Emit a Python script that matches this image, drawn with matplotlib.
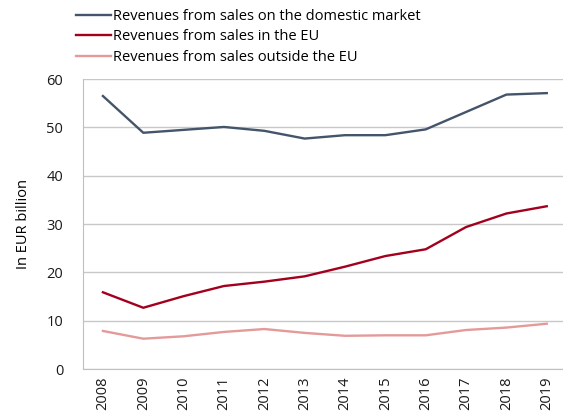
import numpy as np
import matplotlib
matplotlib.use("Agg")
from matplotlib import pyplot as plt

plt.rcParams['font.family'] = ['Open Sans', 'DejaVu Sans']

# Godisnji prihodi (mlrd EUR)
years = ['2008', '2009', '2010', '2011', '2012', '2013',
         '2014', '2015', '2016', '2017', '2018', '2019']
domestic = [56.5, 48.9, 49.5, 50.1, 49.3, 47.7, 48.4, 48.4, 49.6, 53.2, 56.8, 57.1]
eu = [15.9, 12.7, 15.1, 17.2, 18.1, 19.2, 21.2, 23.4, 24.8, 29.4, 32.2, 33.7]
outside = [7.9, 6.3, 6.8, 7.7, 8.3, 7.5, 6.9, 7.0, 7.0, 8.1, 8.6, 9.4]

fig = plt.figure(figsize=(5.63, 4.12), dpi=100)
ax = fig.add_axes([0.147, 0.104, 0.86, 0.704])

x = np.arange(len(years))
ax.plot(x, domestic, color='#44546a', lw=1.7, label='Revenues from sales on the domestic market')
ax.plot(x, eu, color='#a3001e', lw=1.7, label='Revenues from sales in the EU')
ax.plot(x, outside, color='#e59a9a', lw=1.7, label='Revenues from sales outside the EU')

ax.set_xlim(-0.5, 11.5)
ax.set_ylim(0, 60)
ax.set_yticks(range(0, 61, 10))
ax.set_xticks(x)
ax.set_xticklabels(years, rotation=90)
ax.tick_params(length=0, labelsize=10.5, colors='#1a1a1a')
ax.tick_params(axis='y', pad=14)
ax.tick_params(axis='x', pad=5)
ax.grid(axis='y', color='#c8c8c8', lw=1)
ax.set_axisbelow(True)
for s in ['left', 'bottom', 'top', 'right']:
    ax.spines[s].set_color('#c0c0c0')
ax.spines['top'].set_visible(False)
ax.set_ylabel('In EUR billion', fontsize=10.5, labelpad=11)

fig.legend(loc='upper left', bbox_to_anchor=(0.125, 0.993), frameon=False,
           fontsize=10.5, handlelength=2.4, handletextpad=0.15, labelspacing=0.38,
           borderaxespad=0)

fig.savefig('out.png', dpi=100)
